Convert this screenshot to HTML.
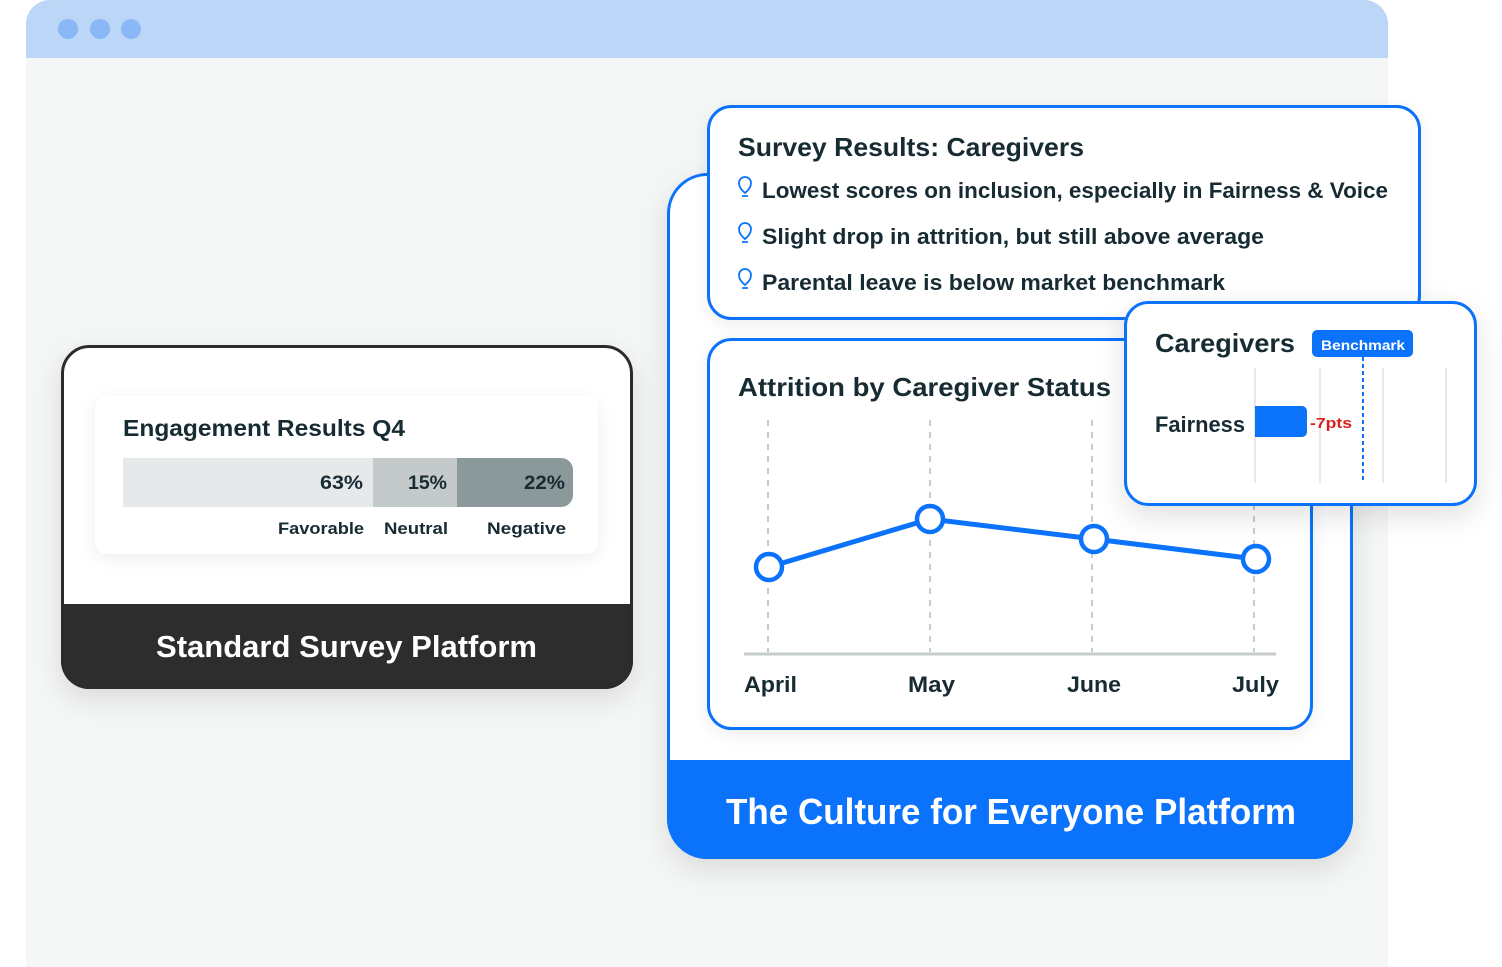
<!DOCTYPE html>
<html><head><meta charset="utf-8"><style>html,body{margin:0;padding:0;background:#fff}svg{display:block}text{font-family:"Liberation Sans",sans-serif;font-weight:bold;fill:#172b33}</style></head>
<body>
<svg width="1502" height="967" viewBox="0 0 1502 967" xmlns="http://www.w3.org/2000/svg">
<defs>
<filter id="sh" x="-20%" y="-20%" width="140%" height="150%"><feDropShadow dx="0" dy="10" stdDeviation="14" flood-color="#000" flood-opacity="0.12"/></filter>
<filter id="sh2" x="-20%" y="-20%" width="140%" height="150%"><feDropShadow dx="0" dy="4" stdDeviation="8" flood-color="#000" flood-opacity="0.07"/></filter>
<clipPath id="lc"><rect x="61" y="345" width="572" height="344" rx="28"/></clipPath>
<clipPath id="bc"><rect x="667" y="173" width="686" height="686" rx="40"/></clipPath>
</defs>
<!-- window -->
<path d="M26 24 a24 24 0 0 1 24 -24 H1364 a24 24 0 0 1 24 24 V967 H26 Z" fill="#f5f7f6"/>
<path d="M26 24 a24 24 0 0 1 24 -24 H1364 a24 24 0 0 1 24 24 V58 H26 Z" fill="#bcd6f8"/>
<circle cx="68" cy="29" r="10" fill="#8ab8f7"/><circle cx="100" cy="29" r="10" fill="#8ab8f7"/><circle cx="131" cy="29" r="10" fill="#8ab8f7"/>

<!-- left card -->
<g filter="url(#sh)"><rect x="61" y="345" width="572" height="344" rx="28" fill="#fff"/></g>
<g clip-path="url(#lc)"><rect x="61" y="604" width="572" height="90" fill="#2d2d2d"/></g>
<rect x="62.5" y="346.5" width="569" height="341" rx="27" fill="none" stroke="#2b2b2b" stroke-width="3"/>
<g filter="url(#sh2)"><rect x="95" y="396" width="503" height="158" rx="12" fill="#fff"/></g>
<text x="123" y="436" font-size="23" textLength="282" lengthAdjust="spacingAndGlyphs">Engagement Results Q4</text>
<rect x="123" y="458" width="250" height="49" fill="#e5e9e9"/>
<rect x="373" y="458" width="84" height="49" fill="#c3cac9"/>
<path d="M457 458 H561 a12 12 0 0 1 12 12 V495 a12 12 0 0 1 -12 12 H457 Z" fill="#8b999b"/>
<text x="320" y="489" font-size="19" textLength="43" lengthAdjust="spacingAndGlyphs">63%</text>
<text x="408" y="489" font-size="19" textLength="39" lengthAdjust="spacingAndGlyphs">15%</text>
<text x="524" y="489" font-size="19" textLength="41" lengthAdjust="spacingAndGlyphs">22%</text>
<text x="278" y="534" font-size="17" textLength="86" lengthAdjust="spacingAndGlyphs">Favorable</text>
<text x="384" y="534" font-size="17" textLength="64" lengthAdjust="spacingAndGlyphs">Neutral</text>
<text x="487" y="534" font-size="17" textLength="79" lengthAdjust="spacingAndGlyphs">Negative</text>
<text x="156" y="657" font-size="31" style="fill:#fff" textLength="381" lengthAdjust="spacingAndGlyphs">Standard Survey Platform</text>

<!-- big blue card -->
<g filter="url(#sh)"><rect x="667" y="173" width="686" height="686" rx="40" fill="#fff"/></g>
<g clip-path="url(#bc)"><rect x="667" y="760" width="686" height="100" fill="#0b72fb"/></g>
<rect x="668.5" y="174.5" width="683" height="683" rx="39" fill="none" stroke="#0b72fb" stroke-width="3"/>
<text x="726" y="824" font-size="36" style="fill:#fff" textLength="570" lengthAdjust="spacingAndGlyphs">The Culture for Everyone Platform</text>

<!-- attrition card -->
<g filter="url(#sh2)"><rect x="707" y="338" width="606" height="392" rx="24" fill="#fff"/></g>
<rect x="708.5" y="339.5" width="603" height="389" rx="23" fill="none" stroke="#0b72fb" stroke-width="3"/>
<text x="738" y="396" font-size="26" textLength="373" lengthAdjust="spacingAndGlyphs">Attrition by Caregiver Status</text>
<g stroke="#c6cccc" stroke-width="2" stroke-dasharray="6,6">
<line x1="768" y1="420" x2="768" y2="652"/><line x1="930" y1="420" x2="930" y2="652"/><line x1="1092" y1="420" x2="1092" y2="652"/><line x1="1254" y1="420" x2="1254" y2="652"/>
</g>
<line x1="744" y1="654" x2="1276" y2="654" stroke="#c6cccc" stroke-width="3"/>
<polyline points="769,567 930,519 1094,539 1256,559" fill="none" stroke="#0b72fb" stroke-width="5"/>
<g fill="#fff" stroke="#0b72fb" stroke-width="4.5">
<circle cx="769" cy="567" r="13"/><circle cx="930" cy="519" r="13"/><circle cx="1094" cy="539" r="13"/><circle cx="1256" cy="559" r="13"/>
</g>
<text x="744" y="692" font-size="22" textLength="53" lengthAdjust="spacingAndGlyphs">April</text>
<text x="908" y="692" font-size="22" textLength="47" lengthAdjust="spacingAndGlyphs">May</text>
<text x="1067" y="692" font-size="22" textLength="54" lengthAdjust="spacingAndGlyphs">June</text>
<text x="1232" y="692" font-size="22" textLength="47" lengthAdjust="spacingAndGlyphs">July</text>

<!-- survey card -->
<g filter="url(#sh2)"><rect x="707" y="105" width="714" height="215" rx="24" fill="#fff"/></g>
<rect x="708.5" y="106.5" width="711" height="212" rx="23" fill="none" stroke="#0b72fb" stroke-width="3"/>
<text x="738" y="156" font-size="26" textLength="346" lengthAdjust="spacingAndGlyphs">Survey Results: Caregivers</text>
<g fill="none" stroke="#0b72fb" stroke-width="1.8">
<path d="M745 193 c-5 -4 -6 -7 -6 -10 a6 6 0 0 1 12 0 c0 3 -1 6 -6 10 z M742 196 h6"/>
<path d="M745 239 c-5 -4 -6 -7 -6 -10 a6 6 0 0 1 12 0 c0 3 -1 6 -6 10 z M742 242 h6"/>
<path d="M745 285 c-5 -4 -6 -7 -6 -10 a6 6 0 0 1 12 0 c0 3 -1 6 -6 10 z M742 288 h6"/>
</g>
<text x="762" y="198" font-size="22" textLength="626" lengthAdjust="spacingAndGlyphs">Lowest scores on inclusion, especially in Fairness &amp; Voice</text>
<text x="762" y="244" font-size="22" textLength="502" lengthAdjust="spacingAndGlyphs">Slight drop in attrition, but still above average</text>
<text x="762" y="290" font-size="22" textLength="463" lengthAdjust="spacingAndGlyphs">Parental leave is below market benchmark</text>

<!-- caregivers card -->
<g filter="url(#sh)"><rect x="1124" y="301" width="353" height="205" rx="24" fill="#fff"/></g>
<rect x="1125.5" y="302.5" width="350" height="202" rx="23" fill="none" stroke="#0b72fb" stroke-width="3"/>
<text x="1155" y="352" font-size="26" textLength="140" lengthAdjust="spacingAndGlyphs">Caregivers</text>
<rect x="1312" y="330" width="101" height="27" rx="5" fill="#0b72fb"/>
<text x="1321" y="350" font-size="14" style="fill:#fff" textLength="84" lengthAdjust="spacingAndGlyphs">Benchmark</text>
<g stroke="#dde1e1" stroke-width="1.5">
<line x1="1255" y1="368" x2="1255" y2="483"/><line x1="1320" y1="368" x2="1320" y2="483"/><line x1="1383" y1="368" x2="1383" y2="483"/><line x1="1446" y1="368" x2="1446" y2="483"/>
</g>
<line x1="1363" y1="357" x2="1363" y2="483" stroke="#0b72fb" stroke-width="2" stroke-dasharray="4,3"/>
<text x="1155" y="432" font-size="22" textLength="90" lengthAdjust="spacingAndGlyphs">Fairness</text>
<path d="M1255 406 H1302 a5 5 0 0 1 5 5 V432 a5 5 0 0 1 -5 5 H1255 Z" fill="#0b72fb"/>
<text x="1310" y="428" font-size="15" style="fill:#d81f1f" textLength="42" lengthAdjust="spacingAndGlyphs">-7pts</text>
</svg>
</body></html>
